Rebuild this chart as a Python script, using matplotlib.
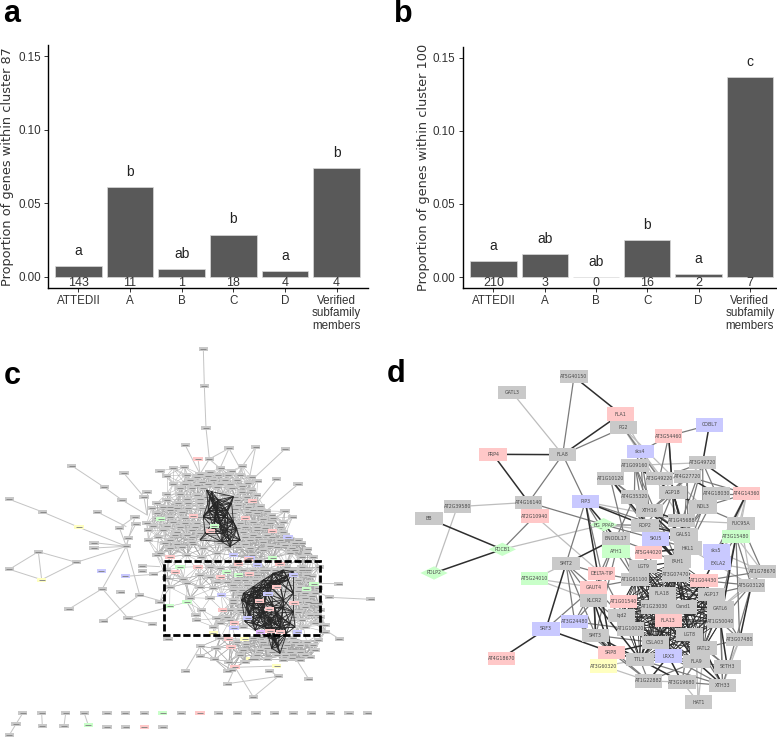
import itertools
import matplotlib
matplotlib.use("Agg")
import matplotlib.pyplot as plt
from matplotlib.collections import LineCollection
from matplotlib.patches import Rectangle, Polygon

W, H = 777, 738
SANS = ['Liberation Sans', 'DejaVu Sans']

# ---------- bar charts ----------
categories = ['ATTEDII', 'A', 'B', 'C', 'D', 'Verified\nsubfamily\nmembers']
values_a = [0.0075, 0.0609, 0.0052, 0.0285, 0.0043, 0.0738]
values_b = [0.0110, 0.0158, 0.0, 0.0251, 0.0020, 0.1372]
counts_a = ['143', '11', '1', '18', '4', '4']
counts_b = ['210', '3', '0', '16', '2', '7']
letters_a = ['a', 'b', 'ab', 'b', 'a', 'b']
letters_b = ['a', 'ab', 'ab', 'b', 'a', 'c']
letter_y_a = [0.0179, 0.0715, 0.0156, 0.0392, 0.0143, 0.0844]
letter_y_b = [0.0212, 0.0262, 0.0103, 0.0356, 0.0123, 0.1475]
yticks = [0.00, 0.05, 0.10, 0.15]

# ---------- panel d network (layout coordinates) ----------
d_nodes = {
 'AT5G40150':(582,50,'g'),'GATL3':(396,97,'g'),'FLA1':(722,162,'r'),'PG2':(730,203,'g'),
 'COBL7':(988,195,'b'),'AT3G54460':(866,228,'r'),'sks4':(781,275,'b'),'PRP4':(339,283,'r'),
 'FLA8':(548,284,'g'),'AT1G09160':(765,316,'g'),'AT3G49720':(968,308,'g'),'AT4G27720':(922,349,'g'),
 'AT1G10120':(691,356,'g'),'AT3G49220':(838,356,'g'),'AGP18':(879,397,'g'),'AT4G18030':(1009,401,'g'),
 'AT4G14360':(1100,401,'r'),'AT4G35320':(763,411,'g'),'PIP3':(616,425,'b'),'AT4G16140':(446,427,'g'),
 'AT2G39580':(232,440,'g'),'NDL3':(969,441,'g'),'XTH16':(809,452,'g'),'AT2G10940':(465,468,'r'),
 'BB':(147,476,'g'),'AT1G45688':(905,482,'g'),'FUC95A':(1083,490,'g'),'BG_PPAP':(671,494,'l'),
 'ROP2':(795,496,'g'),'GALS1':(912,523,'g'),'AT3G15480':(1068,530,'l'),'ENODL17':(708,535,'g'),
 'SKU5':(827,537,'b'),'PDCB1':(367,568,'l'),'HKL1':(924,564,'g'),'sks5':(1009,572,'b'),
 'AFH1':(708,575,'l'),'AT5G44020':(805,578,'r'),'FAH1':(892,605,'g'),'EXLA2':(1013,611,'b'),
 'SMT2':(558,611,'g'),'LGT9':(789,619,'g'),'AT1G78670':(1147,634,'g'),'PDLP2':(162,639,'l'),
 'DELTA-TIP':(665,641,'r'),'AT3G07470':(887,645,'g'),'AT1G61100':(765,659,'g'),'AT1G04430':(972,662,'r'),
 'AT5G24010':(464,656,'l'),'AT5G03120':(1114,676,'g'),'GAUT4':(641,682,'r'),'FLA18':(847,701,'g'),
 'AGP17':(995,703,'g'),'KLCR2':(641,722,'g'),'AT1G01540':(730,725,'r'),'AT1G23030':(825,741,'g'),
 'Cand1':(909,741,'g'),'GATL6':(1021,744,'g'),'iqd2':(724,766,'g'),'AT3G24480':(584,785,'b'),
 'FLA13':(865,782,'r'),'AT1G50040':(1021,785,'g'),'SRF3':(498,807,'b'),'AT1G10020':(752,807,'g'),
 'SMT3':(647,826,'g'),'LGT8':(929,824,'g'),'AT3G07480':(1079,838,'g'),'CSLA03':(826,848,'g'),
 'PATL2':(971,864,'g'),'SRP8':(694,877,'r'),'AT4G18670':(364,895,'r'),'TTL3':(780,899,'g'),
 'LRX3':(865,888,'b'),'FLA9':(949,905,'g'),'SETH3':(1042,921,'g'),'AT3G60320':(671,918,'y'),
 'AT1G22882':(805,963,'g'),'AT3G19680':(906,966,'g'),'XTH33':(1028,976,'g'),'HAT1':(955,1026,'g'),
}
d_diamonds = ['BG_PPAP', 'PDCB1', 'PDLP2']
d_edges_dark = """AT5G40150:FLA1;FLA1:FLA8;PRP4:FLA8;PRP4:AT4G16140;BB:PDCB1;PDCB1:PDLP2;
AT4G18670:SRF3;SRF3:SRP8;SMT2:SRF3;COBL7:AT3G49720;AT3G49720:AT4G14360;AT4G27720:AT4G18030;
PIP3:SRP8;PIP3:ROP2;PIP3:ENODL17;ENODL17:SMT2;AGP18:GALS1;AGP18:NDL3;AGP18:HKL1;AT3G54460:FAH1;
XTH16:GALS1;XTH16:AT1G45688;ROP2:GALS1;ROP2:HKL1;ROP2:FAH1;SKU5:FAH1;SKU5:GALS1;AT5G44020:HKL1;
SMT3:SRP8;SMT3:TTL3;KLCR2:SRP8;KLCR2:TTL3;GAUT4:SMT3;SRP8:TTL3;SRP8:CSLA03;TTL3:AT3G19680;
LRX3:AT3G19680;LRX3:AT1G22882;FLA9:XTH33;PATL2:XTH33;AT1G50040:SETH3;AT5G03120:AT3G07480;
AT3G15480:AT1G50040;AT4G14360:AT1G04430;AT1G09160:AGP18;AT1G10120:FAH1;AT4G35320:HKL1"""
d_edges_mid = """AT5G40150:FLA8;PG2:FLA8;FLA8:AT4G16140;FLA8:PIP3;PDCB1:AT2G10940;AT4G16140:BG_PPAP;
AT4G16140:AT2G10940;COBL7:AT3G54460;AT3G54460:sks4;AT3G54460:AT3G49220;AT3G54460:AGP18;
sks4:AT1G09160;sks4:ROP2;sks4:XTH16;PG2:AT3G49220;AT3G49720:AT4G18030;AT3G49720:AT1G45688;
AT3G49720:NDL3;AT3G49720:GALS1;AT3G49720:AT3G49220;AT4G27720:GALS1;AT4G27720:HKL1;AT4G27720:AGP18;
AT4G27720:XTH16;AT4G27720:AT4G14360;AT1G09160:XTH16;AT1G09160:ROP2;AT1G09160:AT4G35320;AT1G09160:FAH1;
AT1G10120:AT4G35320;AT1G10120:XTH16;AT1G10120:ROP2;AT1G10120:AT1G61100;AT4G35320:ROP2;AT4G35320:GALS1;
AT4G35320:AT5G44020;AT4G35320:ENODL17;AGP18:AT1G45688;AGP18:AT5G44020;AGP18:ROP2;AGP18:XTH16;
AT4G18030:HKL1;AT4G18030:GALS1;AT4G14360:NDL3;AT4G14360:AT4G18030;AT4G14360:sks5;FUC95A:NDL3;
FUC95A:sks5;FUC95A:AT1G78670;AT3G15480:AT5G03120;AT3G15480:EXLA2;AT3G15480:GATL6;AT3G15480:AT3G07480;
PIP3:AFH1;PIP3:DELTA-TIP;PIP3:SMT2;PIP3:GALS1;BG_PPAP:ROP2;BG_PPAP:ENODL17;BG_PPAP:SKU5;BG_PPAP:AFH1;
ENODL17:AFH1;ENODL17:KLCR2;ENODL17:GAUT4;ENODL17:AT1G61100;ENODL17:FAH1;SMT2:KLCR2;SMT2:SMT3;
SMT2:GAUT4;SMT2:DELTA-TIP;SMT2:AT3G24480;AFH1:LGT9;AFH1:AT1G61100;AFH1:SMT3;GAUT4:AT3G24480;
GAUT4:AT1G61100;GAUT4:iqd2;GAUT4:SRF3;DELTA-TIP:AT1G61100;DELTA-TIP:AT1G10020;KLCR2:SMT3;
KLCR2:AT1G10020;KLCR2:AT3G24480;AT3G24480:SMT3;AT3G24480:AT1G10020;AT3G24480:SRP8;SMT3:CSLA03;
SMT3:AT1G22882;SRP8:LRX3;SRP8:AT1G22882;TTL3:AT1G22882;TTL3:XTH33;LRX3:XTH33;AT1G22882:FLA9;
AT3G19680:XTH33;AT3G19680:FLA9;FLA9:SETH3;PATL2:SETH3;PATL2:AT3G07480;LGT8:SETH3;LGT8:XTH33;
LGT8:AT3G19680;AT1G50040:AT3G07480;AT1G50040:XTH33;AT1G50040:AT1G78670;GATL6:AT3G07480;GATL6:XTH33;
AT5G03120:AT1G04430;AT5G03120:AGP17;AT5G03120:XTH33;AT1G78670:AT1G04430;NDL3:GALS1;NDL3:HKL1;
NDL3:AT1G45688;GALS1:FAH1;HKL1:AT3G07470;FAH1:AT3G07470;FAH1:LGT9;LGT9:AT5G44020;AT5G44020:FLA18;
AT5G44020:AT1G61100;SKU5:LGT9;SKU5:HKL1;ENODL17:ROP2;AT1G45688:HKL1;AT1G45688:FAH1"""
d_edges_light = """GATL3:FLA8;AT4G16140:AT2G39580;AT2G39580:PDLP2;PDCB1:BG_PPAP;AT2G10940:DELTA-TIP;
AT5G24010:SMT2;AT5G24010:GAUT4;AT5G24010:KLCR2;PG2:sks4;PG2:AGP18;PG2:NDL3;PG2:AT1G45688;FLA1:AT3G49220;
AT3G49720:AGP18;AT3G49720:AT1G09160;FUC95A:AT1G45688;FUC95A:AT5G03120;AT3G15480:AT1G78670;AT3G15480:sks5;
AT4G14360:FUC95A;AT4G14360:AT3G15480;AT4G14360:EXLA2;AT1G78670:sks5;AT1G78670:EXLA2;AT5G03120:HKL1;
GATL6:AT1G78670;GATL6:AT5G03120;AT3G07480:XTH33;AT3G07480:SETH3;HAT1:AT3G19680;HAT1:FLA9;
AT3G60320:TTL3;AT3G60320:AT1G22882;AT1G22882:AT3G19680;FLA9:HAT1;PATL2:HAT1;AT1G10120:SKU5;BG_PPAP:GALS1;PIP3:AT1G45688"""
d_core = ['AT3G07470', 'AT1G61100', 'FLA18', 'AGP17', 'AT1G23030', 'Cand1', 'FLA13', 'AT1G50040',
          'iqd2', 'AT1G10020', 'CSLA03', 'LGT8', 'LGT9', 'GATL6', 'AT1G04430', 'AT1G01540',
          'TTL3', 'LRX3', 'FLA9', 'PATL2', 'FAH1']

# ---------- panel c network (layout coordinates) ----------
c_outer = {
 'o1':(610,28),'o2':(613,139),'o3':(618,264),'o4':(556,316),'o5':(687,325),'o6':(767,321),'o7':(856,326),
 'o8':(628,357),'o9':(215,377),'o10':(372,400),'o11':(313,442),'o12':(727,378),'o13':(829,418),'o14':(894,433),
 'o15':(28,478),'o16':(128,516),'o17':(292,516),'o18':(366,480),'o19':(432,471),'o20':(441,456),'o21':(405,530),
 'o22':(408,551),'o23':(358,563),'o24':(385,593),'o25':(379,619),'o26':(282,608),'o27':(282,624),'o28':(229,667),
 'o29':(115,635),'o30':(28,688),'o31':(427,677),'o32':(427,692),'o33':(461,703),'o34':(307,746),'o35':(362,757),
 'o36':(419,765),'o37':(207,807),'o38':(311,843),'o39':(384,835),'o40':(457,852),'o41':(504,898),'o42':(1018,897),
 'o43':(1112,778),'o44':(988,772),'o45':(1016,731),'o46':(557,992),'o47':(683,1031),'o48':(835,1009),'o49':(926,1017),
 'o50':(760,1071),'o51':(808,992),'o52':(594,356),'o53':(237,562),'o54':(125,719),'o55':(304,692),'o56':(376,709),
 'o57':(705,982),'o58':(830,978),'o59':(752,958),'h1':(600,402),'h2':(660,385),'h3':(745,430),'h4':(790,520),
 'h5':(770,490),'h6':(700,430),'h7':(600,920),'h8':(890,960),'h9':(960,860),'h10':(940,750),'h11':(940,730),
 'h12':(490,785),'h13':(510,800),'h14':(480,680),'h15':(490,690),'h16':(441,525),'h17':(379,560),
}
c_outer_colors = {'o52':'r', 'o53':'y', 'o54':'y', 'o55':'b', 'o56':'b', 'o57':'r', 'o58':'y', 'o59':'y'}
c_outer_edges = """o1:o2;o2:o3;o3:o8;o4:h1;o5:o8;o5:h2;o5:h3;o6:o12;o6:h3;o7:h3;o9:o11;o11:o18;o18:h16;o10:o19;
o15:o16;o16:o53;o53:o25;o17:h17;o25:o21;o25:o23;o25:o24;o25:o26;o25:o27;o28:o25;o28:o29;o29:o30;o29:o54;
o30:o54;o54:o28;o25:o34;o25:o36;o34:o37;o34:o39;o39:o40;o38:o36;o36:h12;o39:h13;o31:h14;o33:h15;o56:o33;
o46:h7;o47:o48;o47:o57;o50:o48;o50:o57;o48:o51;o49:h8;o57:o58;o42:h9;o44:o43;o44:h10;o45:h11;o14:h4;o13:h5;
o12:h6;o21:o23;o22:o24;o20:h16;o19:h16;o52:h1;o8:h1;o8:h2"""

c_top_x = [480,520,553,600,630,662,695,727,500,570,605,640,675,710,745,773,540,500,575,610,650,695,725,755,540,500,
           590,620,670,705,740,758,535,565,600,640,680,715,780,470,745,760,455,470,510,545,580,620,660,700,736,770,
           800,855,878,482,440,520,555,590,630,643,680,720,760,790,820,840,445,490,530,575,632,690,730,770,817,795,
           445,475,510,575,610,660,700,750,790,840,864,905,480,510,545,575,610,680,715,750,790,830,875,923,470,510,
           560,604,650,700,750,745,818,777,757,870,905,940]
c_top_y = [393,385,381,402,395,385,392,378,407,420,425,420,420,420,430,422,445,462,445,445,440,445,455,450,462,480,
           465,470,465,470,470,484,490,490,490,490,490,495,498,490,500,510,505,520,510,515,528,515,515,520,533,520,
           513,514,530,536,550,545,550,550,545,557,550,550,545,536,535,560,570,570,575,570,572,575,575,570,574,565,
           600,590,600,592,595,600,600,600,606,600,592,610,640,625,620,605,625,620,620,625,630,620,625,627,645,650,
           645,652,640,645,655,657,654,659,645,640,650,650]
c_top_colors = {31:'r', 46:'r', 50:'r', 55:'l', 61:'l', 72:'r', 76:'r', 88:'b', 103:'r', 107:'b', 108:'b', 109:'r', 110:'l'}
c_top_extra_x = [560,590,625,655,685,720,755,520,555,590,625,660,690,725,560,600,650,710,745,770,510,490,530,565,
                 605,655,705,745,780,815,470,510,555,600,650,695,735,770,810,850,460,500,540,585,625,670,710,760,
                 800,850,885,525,560,600,640,735,775,815,855,895,495,530,580,660,700,735,810,855,885,920]
c_top_extra_y = [405,410,408,405,405,405,410,432,432,435,432,432,432,438,478,478,478,480,485,465,500,500,505,505,
                 505,505,508,515,510,525,535,530,535,530,530,530,560,560,550,545,558,558,562,562,560,562,565,585,
                 585,575,610,585,585,580,585,590,590,590,585,600,610,612,612,610,612,612,618,615,630,640]

c_low_x = [526,540,594,662,680,716,716,748,772,840,881,830,942,919,664,804,778,882,668,808,743,703,702,640,781,810,841,
           893,509,561,500,630,660,700,800,860,905,958,500,550,600,630,770,810,845,920,935,510,560,600,640,700,740,770,
           800,870,900,955,480,570,630,720,750,780,840,880,915,935,605,700,730,760,840,870,915,940,588,590,640,680,725,
           765,800,830,880,930,950,660,730,760,800,830,870,915,975,945]
c_low_y = [697,682,680,712,697,704,673,703,675,672,704,742,731,746,765,761,784,790,811,806,834,850,865,878,877,872,875,
           876,799,787,690,680,685,680,690,680,680,680,715,717,705,710,705,710,705,705,708,742,730,740,745,735,735,740,
           735,735,740,745,785,773,775,765,770,760,770,765,775,768,810,790,800,805,800,815,800,790,826,841,860,830,815,
           830,830,825,830,825,825,850,860,855,850,850,855,860,855,850]
c_low_colors = {0:'r', 1:'l', 2:'r', 3:'r', 4:'l', 5:'l', 6:'r', 7:'r', 8:'b', 9:'r', 10:'b', 11:'r', 12:'l', 13:'l', 14:'b',
                15:'b', 16:'r', 17:'r', 18:'r', 19:'r', 20:'b', 21:'r', 22:'b', 23:'y', 24:'p', 25:'r', 26:'r', 27:'b',
                28:'l', 29:'l'}
c_low_extra_x = [730,760,790,825,855,880,905,925,650,680,710,735,765,790,820,855,895,930,700,725,760,790,815,855,
                 895,915,945,700,735,765,815,850,895,925,955,690,720,780,815,850,895,960,650,690,875,905,960,975]
c_low_y_extra = [690,690,690,690,690,690,690,690,725,725,720,720,720,720,720,720,720,725,750,750,752,752,752,752,
                 752,760,760,780,782,782,782,785,785,785,790,810,810,815,815,815,815,810,835,840,840,840,830,875]

c_bot_x = [602,648,686,693,734,737,644,686,601,780,790,765,800,840,860,900,940,945,900,855,802,900,820,878,695,730,683,
           785,830,870,915,660,710,760,810,850,885,920,955,720,770,815,850,930,735,875]
c_bot_y = [919,925,896,921,898,913,958,965,949,930,905,958,925,900,915,915,915,930,935,945,957,960,905,895,990,930,993,
           890,945,935,945,895,905,895,895,925,905,905,900,945,945,935,960,950,965,955]
c_bot_colors = {2:'r', 3:'r', 4:'y'}

c_band_x = [630,640,625,650,660,680,690,670,700,695,645,615,600,655,675,720,620,610,640,665,690,710,635,650,680,700,
            730,760,790,820,850,810,840,790,830,870,760,740,880,800,820,835,770,850,745,800,865,780,
            880,860,835,805,775,750,725,760,790,820,850,880,810,845,885,795,765,735,820,840,860,825,815,840]
c_band_y = [470,495,510,520,550,570,600,580,470,490,540,580,600,480,530,600,450,530,565,605,620,565,455,500,510,545,
            760,740,720,700,690,740,730,790,820,850,850,790,760,870,900,920,770,800,820,760,720,830,
            695,710,720,730,750,765,780,800,815,800,780,815,840,835,860,860,870,845,870,860,880,900,925,940]

c_row1_x = [68,125,197,253,321,376,433,488,544,600,656,712,768,824,880,935,991,1047,1103]
c_row2_x = [48,127,192,265,321,377,433,489,28]
c_row2_y = [1152,1158,1158,1156,1161,1161,1161,1161,1185]
c_row1_y = 1120
c_row1_colors = {7:'l', 9:'r'}
c_row2_colors = {3:'l', 6:'r'}
c_row_links = [(0, 0), (1, 1), (2, 2), (3, 3)]

selection_box = (491, 662, 469, 222)

node_fill = {'g':'#c9c9c9', 'r':'#ffc8c8', 'b':'#c9c9ff', 'l':'#c9ffc9', 'y':'#ffffc0', 'p':'#e2b8ff'}

fig = plt.figure(figsize=(W/100, H/100), dpi=100, facecolor='white')

def axes_px(left, top, right, bottom):
    return fig.add_axes([left/W, 1-bottom/H, (right-left)/W, (bottom-top)/H])

def bars(ax, vals, counts, letters, letter_y, ylabel, label_x, xlim, ylim):
    xs = list(range(1, 7))
    ax.bar(xs, vals, width=0.9, color='#595959', edgecolor='#d9d9d9', linewidth=0.5)
    ax.set_xlim(*xlim); ax.set_ylim(*ylim)
    ax.set_xticks(xs); ax.set_xticklabels(categories, family=SANS, fontsize=8.4, color='#333333', linespacing=1.05)
    ax.set_yticks(yticks); ax.set_yticklabels([f'{t:.2f}' for t in yticks], family=SANS, fontsize=8.4, color='#333333')
    ax.tick_params(length=3, width=0.7, color='#333333', pad=2)
    for s in ('top', 'right'):
        ax.spines[s].set_visible(False)
    for s in ('left', 'bottom'):
        ax.spines[s].set_linewidth(1.0)
    for x, c, l, ly in zip(xs, counts, letters, letter_y):
        ax.text(x, -0.0041, c, ha='center', va='center', family=SANS, fontsize=9, color='#333333')
        ax.text(x, ly, l, ha='center', va='center', family=SANS, fontsize=10, color='#222222')
    fig.text(label_x/W, 1-167/H, ylabel, rotation=90, ha='center', va='center', fontsize=9.3, color='#333333')

ax_a = axes_px(48, 45, 368, 288)
bars(ax_a, values_a, counts_a, letters_a, letter_y_a, 'Proportion of genes within cluster 87', 8,
     (0.409, 6.61), (-0.0075, 0.1575))
ax_b = axes_px(462.5, 47, 777, 288)
bars(ax_b, values_b, counts_b, letters_b, letter_y_b, 'Proportion of genes within cluster 100', 423,
     (0.396, 6.53), (-0.00753, 0.1575))

# panel c ---------------------------------------------------------------
ax_c = axes_px(0, 340, 380, 738)
ax_c.set_xlim(0, 1140); ax_c.set_ylim(1194, 0); ax_c.axis('off')

def near_pairs(xs, ys, r):
    out = []
    for i, j in itertools.combinations(range(len(xs)), 2):
        if (xs[i]-xs[j])**2 + (ys[i]-ys[j])**2 < r*r:
            out.append([(xs[i], ys[i]), (xs[j], ys[j])])
    return out

top_x = c_top_x + c_top_extra_x
top_y = c_top_y + c_top_extra_y
low_x = c_low_x + c_low_extra_x
low_y = c_low_y + c_low_y_extra
cloud_edges = near_pairs(top_x, top_y, 62) + near_pairs(low_x, low_y, 62) + near_pairs(c_bot_x, c_bot_y, 72)
cross_x = c_top_x[-30:] + c_top_extra_x[-20:] + low_x[30:60]
cross_y = c_top_y[-30:] + c_top_extra_y[-20:] + low_y[30:60]
cloud_edges += near_pairs(cross_x, cross_y, 80)
cross2_x = low_x[-30:] + c_bot_x
cross2_y = low_y[-30:] + c_bot_y
cloud_edges += near_pairs(cross2_x, cross2_y, 70)
ax_c.add_collection(LineCollection(cloud_edges, colors='#a6a6a6', linewidths=0.4, alpha=0.8, zorder=1))
ax_c.add_collection(LineCollection(near_pairs(c_band_x, c_band_y, 68), colors='#262626', linewidths=0.65,
                                   alpha=0.95, zorder=3.5))
outer_segs = []
for pair in c_outer_edges.replace('\n', '').split(';'):
    a, b = pair.split(':')
    outer_segs.append([c_outer[a], c_outer[b]])
row_segs = [[(c_row1_x[i], c_row1_y), (c_row2_x[j], c_row2_y[j])] for i, j in c_row_links]
row_segs.append([(c_row2_x[0], c_row2_y[0]), (c_row2_x[8], c_row2_y[8])])
ax_c.add_collection(LineCollection(outer_segs + row_segs, colors='#c4c4c4', linewidths=0.7, zorder=1))

def c_node(x, y, col='g', z=2):
    ax_c.add_patch(Rectangle((x-14, y-6), 28, 12, facecolor=node_fill[col], edgecolor='none', zorder=z))
    ax_c.plot([x-9, x+9], [y, y], color='#8a8a8a', lw=0.7, zorder=z+0.1, solid_capstyle='butt')

for k, (x, y) in c_outer.items():
    if k[0] == 'o':
        c_node(x, y, c_outer_colors.get(k, 'g'))
# grey nodes sit under the dark bands of edges, coloured ones stay on top
for xs, ys, cols in ((top_x, top_y, c_top_colors), (low_x, low_y, c_low_colors), (c_bot_x, c_bot_y, c_bot_colors)):
    for i, (x, y) in enumerate(zip(xs, ys)):
        if cols.get(i, 'g') == 'g':
            c_node(x, y)
for xs, ys, cols in ((top_x, top_y, c_top_colors), (low_x, low_y, c_low_colors), (c_bot_x, c_bot_y, c_bot_colors)):
    for i, col in cols.items():
        c_node(xs[i], ys[i], col, z=4)
for i, x in enumerate(c_row1_x):
    c_node(x, c_row1_y, c_row1_colors.get(i, 'g'))
for i, (x, y) in enumerate(zip(c_row2_x, c_row2_y)):
    c_node(x, y, c_row2_colors.get(i, 'g'))
bx, by, bw, bh = selection_box
ax_c.add_patch(Rectangle((bx, by), bw, bh, fill=False, edgecolor='black', linewidth=2.0, linestyle=(0, (2.6, 1.0)), zorder=5))

# panel d ---------------------------------------------------------------
ax_d = axes_px(380, 360, 777, 738)
ax_d.set_xlim(0, 1191); ax_d.set_ylim(1134, 0); ax_d.axis('off')

def segs(text):
    out = []
    for pair in text.replace('\n', '').split(';'):
        a, b = pair.split(':')
        out.append([d_nodes[a][:2], d_nodes[b][:2]])
    return out

ax_d.add_collection(LineCollection(segs(d_edges_light), colors='#bdbdbd', linewidths=0.9, zorder=1))
ax_d.add_collection(LineCollection(segs(d_edges_mid), colors='#7a7a7a', linewidths=0.9, zorder=1.1))
ax_d.add_collection(LineCollection(segs(d_edges_dark), colors='#2e2e2e', linewidths=1.1, zorder=1.2))
core_segs = [[d_nodes[a][:2], d_nodes[b][:2]] for a, b in itertools.combinations(d_core, 2)]
ax_d.add_collection(LineCollection(core_segs, colors='#2a2a2a', linewidths=0.55, zorder=1.3))
for name, (x, y, c) in d_nodes.items():
    if name in d_diamonds:
        ax_d.add_patch(Polygon([(x-41, y), (x, y-20), (x+41, y), (x, y+20)], facecolor=node_fill[c], edgecolor='none', zorder=2))
    else:
        ax_d.add_patch(Rectangle((x-41, y-20), 82, 40, facecolor=node_fill[c], edgecolor='none', zorder=2))
    ax_d.text(x, y, name, ha='center', va='center', fontsize=3.4, color='#4a4a4a', zorder=3)

# panel letters ---------------------------------------------------------
for t, x, y in [('a', 3, 22), ('b', 394, 22), ('c', 4, 384), ('d', 387, 382)]:
    fig.text(x/W, 1-y/H, t, fontsize=22, fontweight='bold', family=SANS, ha='left', va='baseline', color='black')

fig.savefig('out.png', dpi=100, facecolor='white')
